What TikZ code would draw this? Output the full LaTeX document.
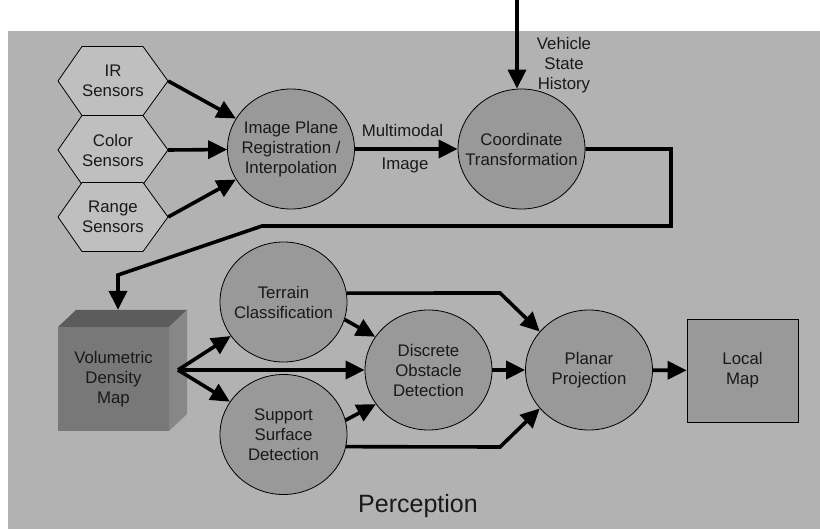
\documentclass[tikz,border=0pt]{standalone}
\usepackage{fontspec}
\setmainfont{Liberation Sans}
\usetikzlibrary{arrows.meta,shapes.geometric,calc}

\definecolor{panelgray}{gray}{0.70}
\definecolor{hexgray}{gray}{0.75}
\definecolor{procgray}{gray}{0.60}
\definecolor{cubefront}{gray}{0.47}
\definecolor{cubetop}{gray}{0.36}
\definecolor{cubeside}{gray}{0.53}

\tikzset{
  txt/.style={font=\fontsize{16.8}{20}\selectfont, align=center, text=black!90},
  % negative inner sep keeps the ellipse at its minimum size
  proc/.style={txt, ellipse, draw=black, line width=0.8pt, fill=procgray,
               inner xsep=-30pt, inner ysep=-12pt,
               minimum width=127pt, minimum height=120pt},
  hexlabel/.style={txt, rectangle, inner sep=0pt, minimum width=110pt, minimum height=69pt},
  hexpath/.style={draw=black, line width=0.8pt, fill=hexgray},
  flow/.style={line width=3.6pt, -{Triangle[length=19pt,width=18pt]}},
}

% flat-topped sensor hexagon centred at (#1,#2)
\newcommand{\sensorhex}[2]{%
  \path[hexpath] (#1-55,#2) -- (#1-31,#2-34.5) -- (#1+30,#2-34.5) -- (#1+55,#2)
    -- (#1+30,#2+34.5) -- (#1-31,#2+34.5) -- cycle;}

\begin{document}
\begin{tikzpicture}[x=1pt,y=-1pt]
  \useasboundingbox (0,0) rectangle (820,529);
  \fill[panelgray] (8,31) rectangle (820,529);

  % sensor hexagons
  \sensorhex{113}{81}
  \sensorhex{113}{150}
  \sensorhex{113}{217}
  \node[hexlabel] (ir)  at (113,81)  {IR\\Sensors};
  \node[hexlabel] (col) at (113,150) {Color\\Sensors};
  \node[hexlabel] (rng) at (113,217) {Range\\Sensors};

  % processing stages
  \node[proc] (ipr) at (291,149)   {Image Plane\\Registration /\\Interpolation};
  \node[proc] (ct)  at (521.5,149) {Coordinate\\Transformation};
  \node[proc] (ter) at (283.5,302) {Terrain\\Classification};
  \node[proc] (sup) at (283.5,434.5) {Support\\Surface\\Detection};
  \node[proc] (dod) at (428.5,370) {Discrete\\Obstacle\\Detection};
  \node[proc] (pp)  at (589,370)   {Planar\\Projection};

  % local map box
  \node[txt, draw=black, line width=0.8pt, fill=procgray, minimum width=111pt,
        minimum height=103pt, inner sep=0pt] (lm) at (742.5,370.5) {Local\\Map};

  % volumetric density map cube
  \fill[cubetop]  (58,327) -- (76,310) -- (187,310) -- (169,327) -- cycle;
  \fill[cubeside] (169,327) -- (187,310) -- (187,414) -- (169,431) -- cycle;
  \node[txt, fill=cubefront, minimum width=111pt, minimum height=104pt,
        inner sep=0pt] (vol) at (113.5,379) {Volumetric\\Density\\Map};

  % free ends and bend points
  \coordinate (vin) at (517,0);
  \coordinate (vo)  at (178,370);
  \coordinate (r1)  at (671,149);
  \coordinate (r2)  at (671,226);
  \coordinate (r3)  at (262,226);
  \coordinate (r4)  at (118,275);
  \coordinate (tb)  at (500,293);
  \coordinate (sb)  at (500,447);

  % sensor inputs
  \draw[flow] (ir.east)  -- (ipr);
  \draw[flow] (col.east) -- (ipr);
  \draw[flow] (rng.east) -- (ipr);

  % registration to coordinate transformation
  \draw[flow] (ipr) -- (ct);
  \node[txt, anchor=base] (mm)  at (402.5,137) {Multimodal};
  \node[txt, anchor=base] (img) at (405,170) {Image};

  % vehicle state input
  \draw[flow] (vin) -- (vin |- ct.north);
  \node[txt] (vsh) at (564,65) {Vehicle\\State\\History};

  % transformed data into the density map
  \draw[flow, line join=miter] (ct.east) -- (r1) -- (r2) -- (r3) -- (r4)
    -- ([xshift=4.5pt,yshift=17pt]vol.north);

  % density map fan-out
  \draw[flow] (vo) -- (ter);
  \draw[flow] (vo) -- (dod);
  \draw[flow] (vo) -- (sup);

  % classification into obstacle detection
  \draw[flow] (ter.-16) -- (dod.148);
  \draw[flow] (sup.13) -- (dod.-147);

  % into planar projection
  \draw[flow, line join=miter] (ter.8) -- (tb) -- (pp.142);
  \draw[flow, line join=miter] (sup.-11) -- (sb) -- (pp.-142);
  \draw[flow] (dod) -- (pp);
  \draw[flow] (pp) -- (lm);

  \node[font=\fontsize{25}{30}\selectfont, text=black!90, anchor=base] (perc) at (418,512) {Perception};
\end{tikzpicture}
\end{document}
